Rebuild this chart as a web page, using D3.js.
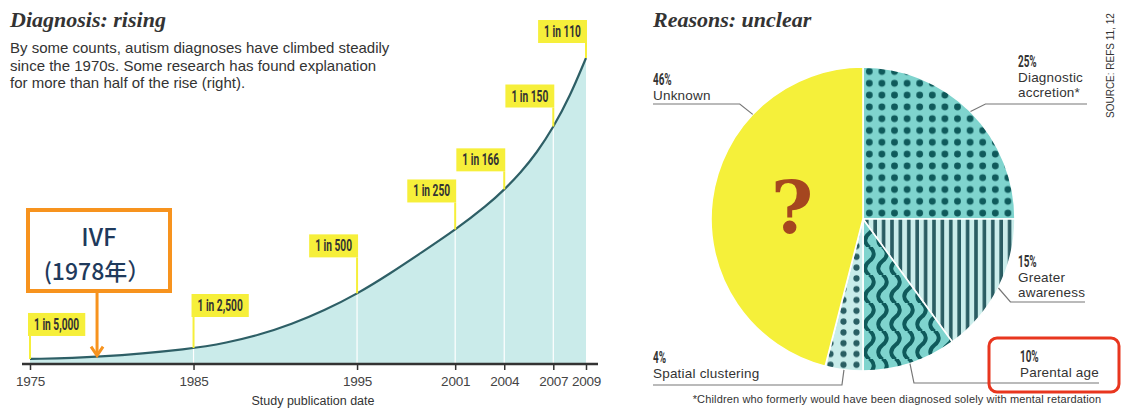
<!DOCTYPE html>
<html>
<head>
<meta charset="utf-8">
<script src="https://cdn.jsdelivr.net/npm/d3@7"></script>
<style>
  body { margin: 0; background: #fff; }
  svg { display: block; }
</style>
</head>
<body>
<div id="chart"></div>
<script>
// data: left panel (prevalence per 10,000 children)
var curveYears  = [1975, 1979, 1985, 1987, 1989, 1991, 1993, 1995, 1997, 1999, 2001, 2003, 2004, 2005, 2006, 2007, 2008, 2009];
var curveValues = [1.2, 1.6, 4.2, 6.0, 8.3, 11.5, 15.6, 20.5, 26.5, 33, 39.5, 47, 51.5, 56.5, 62.5, 70, 79, 90.6];
var tickYears = [1975, 1985, 1995, 2001, 2004, 2007, 2009];
var rateYears  = [1975, 1985, 1995, 2001, 2004, 2007, 2009];
var rateLabels = ["1 in 5,000", "1 in 2,500", "1 in 500", "1 in 250", "1 in 166", "1 in 150", "1 in 110"];
var ivfYear = 1979.1;

// data: right panel
var reasonValues = [25, 15, 10, 4, 46];
var reasonPct    = ["25%", "15%", "10%", "4%", "46%"];
var reasonNames  = [["Diagnostic", "accretion*"], ["Greater", "awareness"], ["Parental age"], ["Spatial clustering"], ["Unknown"]];

var W = 1121, H = 410;
var svg = d3.select("#chart").append("svg").attr("width", W).attr("height", H);

// ---------- left panel ----------
svg.append("text").attr("x", 10).attr("y", 27)
    .style("font", "italic bold 22px 'Liberation Serif', serif").style("fill", "#333")
    .text("Diagnosis: rising");

var intro = ["By some counts, autism diagnoses have climbed steadily",
             "since the 1970s. Some research has found explanation",
             "for more than half of the rise (right)."];
svg.selectAll(".intro").data(intro).enter().append("text")
    .attr("x", 10).attr("y", function(d, i) { return 53 + i * 17.5; })
    .style("font", "15px 'Liberation Sans', sans-serif").style("fill", "#333")
    .text(function(d) { return d; });

var x = d3.scaleLinear().domain([1975, 2009]).range([30, 586]);
var y = d3.scaleLinear().domain([0, 90.6]).range([363, 58]);
var pts = curveYears.map(function(d, i) { return [d, curveValues[i]]; });

var area = d3.area().x(function(d) { return x(d[0]); }).y0(y(0)).y1(function(d) { return y(d[1]); })
    .curve(d3.curveBasis);
var line = d3.line().x(function(d) { return x(d[0]); }).y(function(d) { return y(d[1]); })
    .curve(d3.curveBasis);

svg.append("path").datum(pts).attr("d", area).style("fill", "#caebea");

// curve height at a pixel x
var curvePath = svg.append("path").datum(pts).attr("d", line).style("fill", "none").style("stroke", "none");
function curveYAt(px) {
    var node = curvePath.node(), len = node.getTotalLength(), lo = 0, hi = len;
    for (var k = 0; k < 40; k++) {
        var mid = (lo + hi) / 2;
        if (node.getPointAtLength(mid).x < px) lo = mid; else hi = mid;
    }
    return node.getPointAtLength(lo).y;
}

// white year lines under the curve
svg.selectAll(".grid").data(tickYears.slice(1, -1)).enter().append("line")
    .attr("x1", function(d) { return x(d); }).attr("x2", function(d) { return x(d); })
    .attr("y1", y(0)).attr("y2", function(d) { return curveYAt(x(d)); })
    .style("stroke", "#fff").style("stroke-width", 1.2);

svg.append("path").datum(pts).attr("d", line)
    .style("fill", "none").style("stroke", "#2e5f66").style("stroke-width", 2.2);

// axis
var xAxis = d3.axisBottom(x).tickValues(tickYears).tickFormat(d3.format("d")).tickSize(6).tickPadding(6);
var ax = svg.append("g").attr("transform", "translate(0,364)").call(xAxis);
ax.select(".domain").remove();
ax.append("line").attr("x1", 22).attr("x2", 598).style("stroke", "#333").style("stroke-width", 2.6);
ax.selectAll(".tick line").style("stroke", "#333").style("stroke-width", 1.5);
ax.selectAll(".tick text").style("font", "13.5px 'Liberation Sans', sans-serif").style("fill", "#444")
    .style("letter-spacing", "-0.2px");

svg.append("text").attr("x", 313).attr("y", 405).attr("text-anchor", "middle")
    .style("font", "12.5px 'Liberation Sans', sans-serif").style("fill", "#333")
    .text("Study publication date");

// rate flags
var lift = [23, 31, 36, 27, 18, 19, 15];
var sx = 0.6;
rateYears.forEach(function(yr, i) {
    var px = x(yr), cy = curveYAt(px);
    var boxBottom = cy - lift[i], boxH = 23;
    var g = svg.append("g");
    var t = g.append("text")
        .style("font", "bold 17px Roboto, sans-serif").style("fill", "#333")
        .text(rateLabels[i]);
    var tw = t.node().getComputedTextLength() * sx;
    var bw = tw + 12;
    var bx = i < 2 ? px - 2 : px + 1 - bw;
    g.insert("rect", "text").attr("x", bx).attr("y", boxBottom - boxH).attr("width", bw).attr("height", boxH)
        .style("fill", "#f6ef3a");
    t.attr("transform", "translate(" + (bx + 6) + "," + (boxBottom - 6) + ") scale(" + sx + ",1)");
    g.append("line").attr("x1", px).attr("x2", px).attr("y1", boxBottom).attr("y2", cy)
        .style("stroke", "#f6ef3a").style("stroke-width", 2);
});

// IVF annotation
var ivx = x(ivfYear);
svg.append("rect").attr("x", 28).attr("y", 210).attr("width", 142).attr("height", 81)
    .style("fill", "#fff").style("stroke", "#f7931e").style("stroke-width", 4);
svg.append("text").attr("x", 99).attr("y", 246).attr("text-anchor", "middle")
    .style("font", "500 24px 'Noto Sans CJK JP', sans-serif").style("fill", "#1f3a5c").text("IVF");
svg.append("text").attr("x", 97).attr("y", 280).attr("text-anchor", "middle")
    .style("font", "500 23px 'Noto Sans CJK JP', sans-serif").style("fill", "#1f3a5c").text("(1978年）");
var ivTip = curveYAt(ivx) - 1;
svg.append("line").attr("x1", ivx).attr("x2", ivx).attr("y1", 293).attr("y2", ivTip)
    .style("stroke", "#f7931e").style("stroke-width", 3);
svg.append("path").attr("d", "M" + (ivx - 6) + "," + (ivTip - 9) + "L" + ivx + "," + ivTip + "L" + (ivx + 6) + "," + (ivTip - 9))
    .style("fill", "none").style("stroke", "#f7931e").style("stroke-width", 3);

// ---------- right panel ----------
svg.append("text").attr("x", 653).attr("y", 27)
    .style("font", "italic bold 22px 'Liberation Serif', serif").style("fill", "#333")
    .text("Reasons: unclear");

svg.append("text").attr("transform", "translate(1114,118) rotate(-90)")
    .style("font", "10px 'Liberation Sans', sans-serif").style("fill", "#333")
    .text("SOURCE: REFS 11, 12");

var defs = svg.append("defs");
var p1 = defs.append("pattern").attr("id", "pDots").attr("patternUnits", "userSpaceOnUse")
    .attr("width", 12.6).attr("height", 11.8);
p1.append("rect").attr("width", 12.6).attr("height", 11.8).style("fill", "#7fd4ce");
p1.append("circle").attr("cx", 6.3).attr("cy", 5.9).attr("r", 3.4).style("fill", "#0f5a5b");

var p2 = defs.append("pattern").attr("id", "pStripes").attr("patternUnits", "userSpaceOnUse")
    .attr("width", 8.4).attr("height", 10);
p2.append("rect").attr("width", 8.4).attr("height", 10).style("fill", "#cbedeb");
p2.append("rect").attr("x", 2).attr("width", 3.6).attr("height", 10).style("fill", "#2b5d63");

var p3 = defs.append("pattern").attr("id", "pWaves").attr("patternUnits", "userSpaceOnUse")
    .attr("width", 13).attr("height", 28);
p3.append("rect").attr("width", 13).attr("height", 28).style("fill", "#7fd4ce");
p3.append("path").attr("d", "M6.5,-0.5 Q15,7 6.5,14 Q-2,21 6.5,28.5")
    .style("fill", "none").style("stroke", "#0f5a5b").style("stroke-width", 4);

var p4 = defs.append("pattern").attr("id", "pSmall").attr("patternUnits", "userSpaceOnUse")
    .attr("width", 13).attr("height", 10.8);
p4.append("rect").attr("width", 13).attr("height", 10.8).style("fill", "#c8ecea");
p4.append("circle").attr("cx", 6.5).attr("cy", 5.4).attr("r", 3.1).style("fill", "#2a5e63");

var fills = ["url(#pDots)", "url(#pStripes)", "url(#pWaves)", "url(#pSmall)", "#f5f03a"];
var cx = 863, cy = 219, R = 152;
var pie = d3.pie().sort(null).value(function(d) { return d; });
var arcs = pie(reasonValues);
var arc = d3.arc().innerRadius(0).outerRadius(R);
var pg = svg.append("g").attr("transform", "translate(" + cx + "," + cy + ")");
pg.selectAll("path").data(arcs).enter().append("path")
    .attr("d", arc)
    .style("fill", function(d, i) { return fills[i]; })
    .style("stroke", "#fff").style("stroke-width", 1.6).style("stroke-linejoin", "round");

pg.append("text").attr("x", -71).attr("y", 14).attr("text-anchor", "middle")
    .style("font", "bold 72px 'DejaVu Serif', serif").style("fill", "#a5461f").text("?");

// labels + leader lines
var leaderAngle = [null, null, null, null, 313.5];
var labelX   = [1018, 1018, 1020, 653, 653];
var pctY     = [67, 267, 362, 363, 85];
var elbowY   = [104, 302, 383, 385, 104];
var endX     = [1087, 1085, 1099, 653, 653];
var elbowDx  = [15, 12, 4, -2, -13];
arcs.forEach(function(a, i) {
    var ang = leaderAngle[i] !== null ? leaderAngle[i] * Math.PI / 180 : (a.startAngle + a.endAngle) / 2;
    var ex = cx + R * Math.sin(ang), ey = cy - R * Math.cos(ang);
    svg.append("path")
        .attr("d", "M" + ex + "," + ey + "L" + (ex + elbowDx[i]) + "," + elbowY[i] + "L" + endX[i] + "," + elbowY[i])
        .style("fill", "none").style("stroke", "#777").style("stroke-width", 1.2);
    svg.append("text").attr("transform", "translate(" + labelX[i] + "," + pctY[i] + ") scale(0.62,1)")
        .style("font", "bold 16px Roboto, sans-serif").style("fill", "#333").text(reasonPct[i]);
    reasonNames[i].forEach(function(n, j) {
        svg.append("text").attr("x", labelX[i]).attr("y", pctY[i] + 15 + j * 15)
            .style("font", "13.5px 'Liberation Sans', sans-serif").style("fill", "#333")
            .style("letter-spacing", "0.2px").text(n);
    });
});

svg.append("rect").attr("x", 989).attr("y", 338).attr("width", 130).attr("height", 54).attr("rx", 8)
    .style("fill", "none").style("stroke", "#e8361f").style("stroke-width", 3);

svg.append("text").attr("x", 897).attr("y", 403).attr("text-anchor", "middle")
    .style("font", "11px 'Liberation Sans', sans-serif").style("fill", "#333")
    .style("letter-spacing", "0.15px")
    .text("*Children who formerly would have been diagnosed solely with mental retardation");
</script>
</body>
</html>
